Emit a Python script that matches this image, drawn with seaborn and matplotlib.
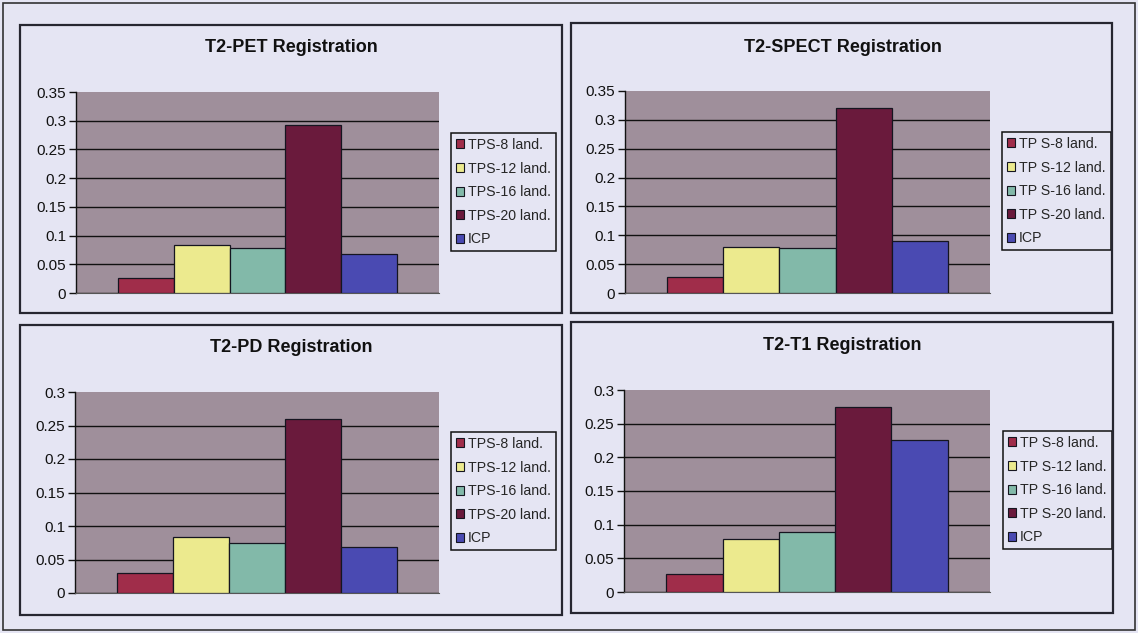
import matplotlib
matplotlib.use("Agg")
import matplotlib.pyplot as plt
from matplotlib.patches import Rectangle, Patch
from matplotlib.ticker import FuncFormatter
import seaborn as sns

sns.set_theme(style="white")
plt.rcParams["font.family"] = ["Liberation Sans Narrow", "Liberation Sans", "DejaVu Sans"]

# Series names and colours
series_left = ["TPS-8 land.", "TPS-12 land.", "TPS-16 land.", "TPS-20 land.", "ICP"]
series_right = ["TP S-8 land.", "TP S-12 land.", "TP S-16 land.", "TP S-20 land.", "ICP"]
bar_colors = ["#a02d4a", "#ecea8e", "#82b9a9", "#6a1a3c", "#4a4ab2"]

# Error values per registration
pet_values = [0.026, 0.083, 0.079, 0.292, 0.068]
spect_values = [0.028, 0.080, 0.078, 0.321, 0.090]
pd_values = [0.030, 0.084, 0.075, 0.259, 0.068]
t1_values = [0.027, 0.078, 0.089, 0.275, 0.226]

titles = ["T2-PET Registration", "T2-SPECT Registration", "T2-PD Registration", "T2-T1 Registration"]
y_ticks_pet = [0, 0.05, 0.1, 0.15, 0.2, 0.25, 0.3, 0.35]
y_ticks_pd = [0, 0.05, 0.1, 0.15, 0.2, 0.25, 0.3]

W, H = 1138, 633
BG = "#e5e5f3"
PLOT_BG = "#9f8f9b"

fig = plt.figure(figsize=(W / 100, H / 100), dpi=100)
fig.patch.set_facecolor(BG)


def rect_fig(x0, y0, x1, y1):
    return [x0 / W, 1 - y1 / H, (x1 - x0) / W, (y1 - y0) / H]


# panel layout in pixels: chart frame, plot area, legend top-left, title centre
panels = [
    dict(frame=(20, 25, 562, 313), plot=(76, 92, 439, 293), legend=(451, 133), title=(291, 48),
         values=pet_values, names=series_left, ticks=y_ticks_pet),
    dict(frame=(571, 23, 1112, 313), plot=(625, 91, 990, 293), legend=(1002, 132), title=(843, 47),
         values=spect_values, names=series_right, ticks=y_ticks_pet),
    dict(frame=(20, 325, 562, 615), plot=(75, 392, 439, 593), legend=(451, 432), title=(291, 348),
         values=pd_values, names=series_left, ticks=y_ticks_pd),
    dict(frame=(571, 322, 1113, 613), plot=(624, 390, 990, 592), legend=(1003, 431), title=(842, 346),
         values=t1_values, names=series_right, ticks=y_ticks_pd),
]

# outer frame
fig.patches.append(Rectangle((3 / W, 1 - 630 / H), 1132 / W, 627 / H, transform=fig.transFigure,
                             fill=False, edgecolor="#333333", linewidth=1.2))

for p, title in zip(panels, titles):
    fx0, fy0, fx1, fy1 = p["frame"]
    fig.patches.append(Rectangle((fx0 / W, 1 - fy1 / H), (fx1 - fx0) / W, (fy1 - fy0) / H,
                                 transform=fig.transFigure, fill=False,
                                 edgecolor="#262630", linewidth=1.6))

    ax = fig.add_axes(rect_fig(*p["plot"]))
    ax.set_facecolor(PLOT_BG)
    sns.barplot(x=p["names"], y=p["values"], hue=p["names"], palette=bar_colors,
                saturation=1, width=1, edgecolor="#151520", linewidth=0.9,
                legend=False, ax=ax, zorder=3)
    ax.set_xlim(-1.25, 5.25)
    ax.set_ylim(0, p["ticks"][-1])
    ax.set_yticks(p["ticks"])
    ax.yaxis.set_major_formatter(FuncFormatter(lambda v, _: f"{v:.2f}".rstrip("0").rstrip(".")))
    ax.set_xticks([])
    ax.set_xlabel("")
    ax.set_ylabel("")
    ax.yaxis.grid(True, color="#111111", linewidth=1.0)
    ax.get_ygridlines()[-1].set_visible(False)
    ax.set_axisbelow(True)
    for s in ["top", "right"]:
        ax.spines[s].set_visible(False)
    ax.spines["bottom"].set_color("#555555")
    ax.spines["bottom"].set_linewidth(0.8)
    ax.spines["left"].set_color("#111111")
    ax.spines["left"].set_linewidth(1.0)
    ax.tick_params(axis="y", left=True, direction="out", length=5, width=1.0,
                   color="#111111", labelsize=11, labelcolor="#111111", pad=2)

    fig.text(p["title"][0] / W, 1 - p["title"][1] / H, title, ha="center", va="center",
             fontsize=13, fontweight="bold", color="#111111")

    handles = [Patch(facecolor=c, edgecolor="#151520", linewidth=0.8) for c in bar_colors]
    lx, ly = p["legend"]
    leg = ax.legend(handles, p["names"], loc="upper left",
                    bbox_to_anchor=(lx / W, 1 - ly / H), bbox_transform=fig.transFigure,
                    frameon=True, fancybox=False, framealpha=1, facecolor=BG,
                    edgecolor="#111111", fontsize=10.2, handlelength=0.6, handleheight=0.6,
                    handletextpad=0.25, labelspacing=0.68, borderpad=0.35, borderaxespad=0)
    leg.get_frame().set_linewidth(1.1)

fig.savefig("out.png", dpi=100, facecolor=BG)
